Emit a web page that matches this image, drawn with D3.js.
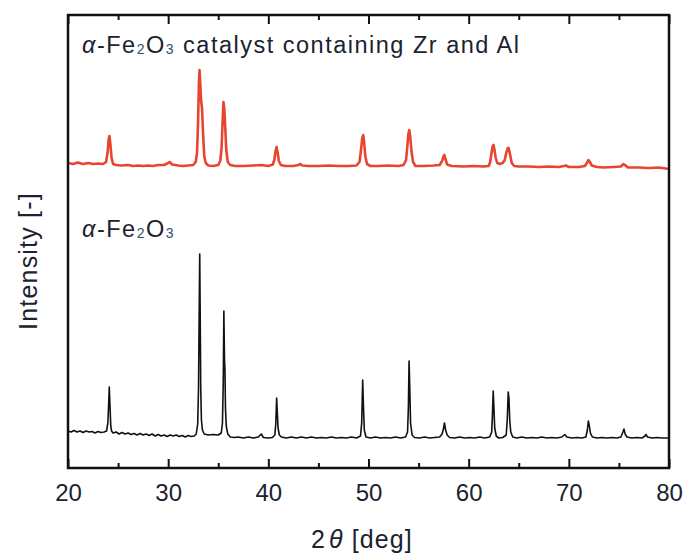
<!DOCTYPE html>
<html>
<head>
<meta charset="utf-8">
<script src="https://cdn.jsdelivr.net/npm/d3@7"></script>
<style>
  html, body { margin: 0; padding: 0; background: #fff; }
  svg { display: block; }
  text { font-family: "Liberation Sans", Arial, sans-serif; }
</style>
</head>
<body>
<svg id="chart" width="686" height="557"></svg>
<script>
// ---- data (2θ in degrees, intensity in arbitrary units) ----
const xMajorTicks = [20, 30, 40, 50, 60, 70, 80];
const xMinorTicks = [25, 35, 45, 55, 65, 75];

const seriesNames = ["α-Fe2O3 catalyst containing Zr and Al", "α-Fe2O3"];

const catalystPattern = [
[20.0,305],[20.5,304],[21.0,305.5],[21.5,304],[22.0,305],[22.5,304],[23.0,304.5],[23.5,304],[23.8,306],[23.95,315],[24.05,328],[24.13,332],[24.22,325],[24.35,310],[24.5,304],[24.8,303],[25.3,302.5],[26,303],[26.5,302],[27,302.5],[27.5,302],[28,302.5],[28.5,302],[29,303],[29.6,303],[30.0,305],[30.15,306],[30.4,303.5],[31,302.5],[31.5,302],[32,302.5],[32.5,303],[32.75,306],[32.88,315],[32.98,345],[33.07,385],[33.13,398],[33.2,385],[33.28,368],[33.38,360],[33.48,335],[33.6,312],[33.75,305],[34,302.5],[34.5,302],[35.0,303],[35.2,307],[35.33,320],[35.43,345],[35.52,366],[35.6,360],[35.7,340],[35.8,318],[35.95,306],[36.2,303],[36.7,302],[37.5,302],[38.5,302.5],[39.3,303],[40,302],[40.45,303.5],[40.6,308],[40.72,317],[40.82,321],[40.92,316],[41.05,307],[41.25,303],[41.7,302],[42.5,302],[43.0,303],[43.2,304],[43.4,302.5],[44,302],[45,302],[46,302.5],[47,302],[48,302],[48.8,302.5],[49.1,306],[49.25,318],[49.38,330],[49.47,333],[49.56,326],[49.68,312],[49.85,304],[50.2,302],[51,302],[52,302.5],[53,302],[53.5,303],[53.75,308],[53.88,322],[53.98,334],[54.07,338],[54.16,332],[54.3,316],[54.45,306],[54.7,302],[55.5,302],[56.5,302.5],[57.1,303],[57.35,307],[57.5,312],[57.58,313],[57.68,309],[57.85,303.5],[58.3,302],[59.5,301.5],[60.5,302],[61.5,301.5],[62.0,302],[62.15,306],[62.28,315],[62.4,322],[62.48,323],[62.58,318],[62.7,310],[62.85,305],[63.1,304],[63.4,305],[63.6,308],[63.75,315],[63.9,320],[64.0,320],[64.12,314],[64.3,305],[64.55,302],[65,301.5],[66,301.5],[67,301],[68,301.5],[69,301],[69.5,302],[69.7,302.5],[70,301],[71,301],[71.6,302],[71.8,305],[71.95,308],[72.1,306],[72.3,302.5],[72.8,301],[73.5,300.5],[74.5,301],[75.2,301.5],[75.45,304],[75.6,303],[75.9,300.5],[77,300.5],[78,300],[79,300.5],[80,299]
];

const hematitePattern = [
[20.0,37],[20.3,36],[20.6,37.5],[20.9,36],[21.2,37],[21.5,35.5],[21.8,37],[22.1,36],[22.4,36.5],[22.7,35],[23.0,36.5],[23.3,35.5],[23.6,36],[23.85,37],[23.98,45],[24.05,62],[24.12,81],[24.2,60],[24.27,42],[24.35,37],[24.5,35],[24.8,36],[25.1,34],[25.4,35.5],[25.7,34],[26.0,35],[26.3,33.5],[26.6,34.5],[26.9,33],[27.2,34.5],[27.5,33],[27.8,34],[28.1,32.5],[28.4,34],[28.7,32],[29.0,33.5],[29.3,32],[29.6,33],[29.9,31.5],[30.2,33],[30.5,32],[30.8,33],[31.1,31.5],[31.4,32.5],[31.7,31],[32.0,32.5],[32.3,31.5],[32.6,32],[32.8,34],[32.95,44],[33.03,80],[33.1,160],[33.15,214],[33.2,150],[33.25,80],[33.32,48],[33.42,38],[33.6,34],[34.0,33],[34.5,33.5],[35.0,33],[35.3,35],[35.42,45],[35.5,85],[35.56,157],[35.62,110],[35.67,98],[35.72,60],[35.8,42],[35.95,34],[36.2,31],[36.6,30.5],[37.0,31],[37.5,30],[38.0,31],[38.5,30],[39.0,31],[39.3,34],[39.5,30.5],[40.0,30],[40.4,30.5],[40.65,33],[40.75,45],[40.83,70],[40.9,55],[40.97,40],[41.1,33],[41.3,31],[41.8,30],[42.3,31],[42.8,30],[43.3,31],[43.8,30],[44.3,31],[44.8,30],[45.3,30.5],[45.8,30],[46.3,31],[46.8,30],[47.3,30.5],[47.8,30],[48.3,31],[48.8,30],[49.2,32],[49.32,45],[49.42,88],[49.5,60],[49.58,38],[49.75,31],[50.2,30],[50.7,31],[51.2,30],[51.7,30.5],[52.2,30],[52.7,31],[53.2,30],[53.7,31],[53.9,36],[53.98,60],[54.05,107],[54.12,80],[54.2,45],[54.35,33],[54.6,30.5],[55.1,30],[55.6,31],[56.1,30],[56.6,30.5],[57.1,31],[57.35,34],[57.5,40],[57.58,45],[57.7,38],[57.85,33],[58.1,30.5],[58.6,30],[59.1,31],[59.6,30],[60.1,30.5],[60.6,30],[61.1,31],[61.6,30],[62.1,31],[62.3,36],[62.38,55],[62.45,77],[62.52,60],[62.6,40],[62.75,32],[63.0,30],[63.4,30.5],[63.75,33],[63.85,48],[63.95,76],[64.02,70],[64.1,48],[64.2,36],[64.4,31],[64.8,30],[65.3,31],[65.8,30],[66.3,30.5],[66.8,30],[67.3,31],[67.8,30],[68.3,30.5],[68.8,30],[69.3,31],[69.6,33.5],[69.8,31],[70.3,30],[70.8,30.5],[71.3,30],[71.7,31],[71.85,38],[71.95,47],[72.05,42],[72.15,35],[72.35,31],[72.8,30],[73.3,30.5],[73.8,30],[74.3,30.5],[74.8,30],[75.2,31],[75.4,36],[75.5,39],[75.62,34],[75.8,31],[76.3,30],[76.8,30.5],[77.3,30],[77.6,32],[77.7,33.5],[77.85,31],[78.3,30],[78.8,30.5],[79.3,30],[80.0,30]
];

// ---- layout ----
const W = 686, H = 557;
const margin = {top: 15, right: 17, bottom: 89, left: 68};
const iw = W - margin.left - margin.right;
const ih = H - margin.top - margin.bottom;
const textColor = "#1b2230";

const svg = d3.select("#chart");
const g = svg.append("g").attr("transform", `translate(${margin.left},${margin.top})`);

const x = d3.scaleLinear().domain([20, 80]).range([0, iw]);
const y = d3.scaleLinear().domain([0, 453]).range([ih, 0]);

const line = d3.line().x(d => x(d[0])).y(d => y(d[1]));

// series
g.append("path").datum(catalystPattern)
  .attr("fill", "none").attr("stroke", "#e8452f").attr("stroke-width", 2.6)
  .attr("stroke-linejoin", "round").attr("d", line);
g.append("path").datum(hematitePattern)
  .attr("fill", "none").attr("stroke", "#111").attr("stroke-width", 1.6)
  .attr("stroke-linejoin", "round").attr("d", line);

// axes: ticks inward on bottom and top
function styleAxis(sel) {
  sel.select(".domain").remove();
  sel.selectAll("line").attr("stroke", "#111").attr("stroke-width", 2);
}
const bottomMajor = g.append("g").attr("transform", `translate(0,${ih})`)
  .call(d3.axisBottom(x).tickValues(xMajorTicks).tickSize(-9).tickPadding(16).tickFormat(d3.format("d")));
styleAxis(bottomMajor);
bottomMajor.selectAll("text").attr("font-size", 24).attr("fill", textColor)
  .attr("font-family", "'Liberation Sans', Arial, sans-serif");
const bottomMinor = g.append("g").attr("transform", `translate(0,${ih})`)
  .call(d3.axisBottom(x).tickValues(xMinorTicks).tickSize(-5).tickFormat(""));
styleAxis(bottomMinor);
const topMajor = g.append("g")
  .call(d3.axisTop(x).tickValues(xMajorTicks).tickSize(-9).tickFormat(""));
styleAxis(topMajor);
const topMinor = g.append("g")
  .call(d3.axisTop(x).tickValues(xMinorTicks).tickSize(-5).tickFormat(""));
styleAxis(topMinor);

// frame
g.append("rect").attr("x", 0).attr("y", 0).attr("width", iw).attr("height", ih)
  .attr("fill", "none").attr("stroke", "#111").attr("stroke-width", 2.5);

// axis titles
const xt = svg.append("text").attr("x", 362).attr("y", 548)
  .attr("text-anchor", "middle").attr("font-size", 25).attr("letter-spacing", 1.1).attr("fill", textColor);
xt.append("tspan").text("2");
xt.append("tspan").attr("font-style", "italic").attr("dx", 3).text("θ");
xt.append("tspan").text(" [deg]");

svg.append("text").attr("transform", "translate(37,261) rotate(-90)")
  .attr("text-anchor", "middle").attr("font-size", 25).attr("letter-spacing", 1.2).attr("fill", textColor)
  .text("Intensity [-]");

// series labels
function formula(sel, rest) {
  sel.append("tspan").attr("font-style", "italic").text("α");
  sel.append("tspan").text("-Fe");
  sel.append("tspan").attr("font-size", 14).attr("dy", 1).attr("fill", "#33506e").text("2");
  sel.append("tspan").attr("dy", -1).text("O");
  sel.append("tspan").attr("font-size", 14).attr("dy", 1).attr("fill", "#33506e").text("3");
  if (rest) sel.append("tspan").attr("dy", -1).text(rest);
}
const t1 = svg.append("text").attr("x", 82).attr("y", 53).attr("font-size", 23.5)
  .attr("letter-spacing", 1.5).attr("fill", textColor);
formula(t1, " catalyst containing Zr and Al");
const t2 = svg.append("text").attr("x", 82).attr("y", 237).attr("font-size", 23.5)
  .attr("letter-spacing", 1.5).attr("fill", textColor);
formula(t2, null);
</script>
</body>
</html>
